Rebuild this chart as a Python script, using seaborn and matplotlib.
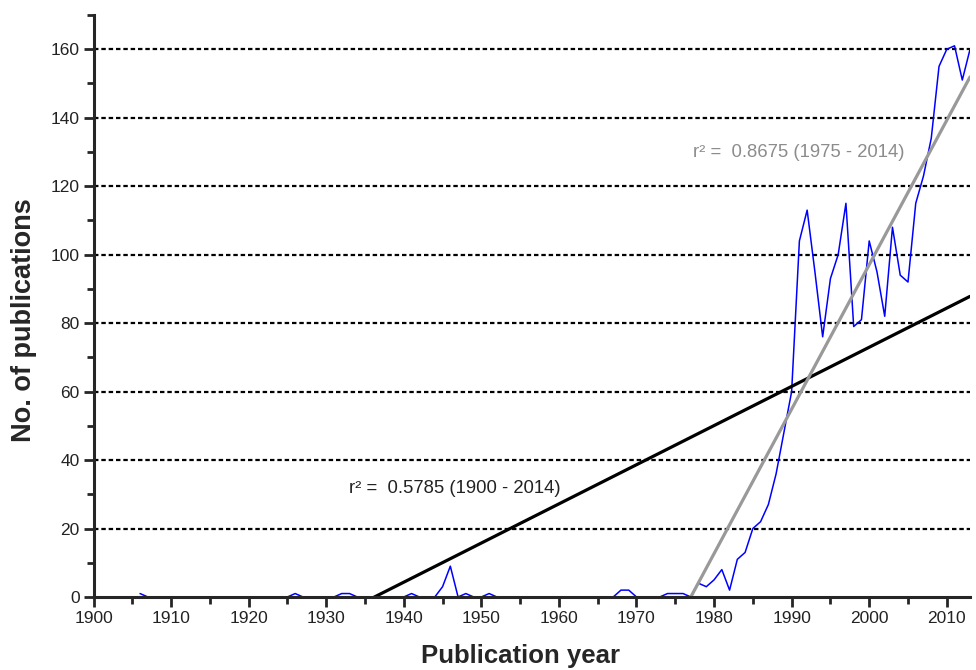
import numpy as np
import pandas as pd
import matplotlib
matplotlib.use("Agg")
import matplotlib.pyplot as plt
import seaborn as sns
from matplotlib.ticker import MultipleLocator

# Publications per year
years = list(range(1906, 2014))
counts = (
    [1] + [0] * 19            # 1906-1925
    + [1, 0, 0, 0, 0, 0]      # 1926-1931
    + [1, 1, 0, 0, 0, 0, 0, 0, 0]  # 1932-1940
    + [1, 0, 0, 0, 3, 9, 0, 1, 0, 0, 1]  # 1941-1951
    + [0] * 16                # 1952-1967
    + [2, 2, 0, 0, 0, 0, 1, 1, 1, 0]  # 1968-1977
    + [4, 3, 5, 8, 2, 11, 13, 20, 22, 27, 36, 48, 60]  # 1978-1990
    + [104, 113, 95, 76, 93, 100, 115, 79, 81, 104]  # 1991-2000
    + [95, 82, 108, 94, 92, 115, 123, 134, 155, 160, 161, 151, 160]  # 2001-2013
)

# fitted line for 1975-2014 as drawn in the figure (slope per year, zero crossing year)
recent_slope = 4.22
recent_zero_year = 1977.0

df = pd.DataFrame({"Year": years, "Publications": counts})

sns.set_style("ticks")
plt.rcParams["font.family"] = ["Liberation Sans", "DejaVu Sans"]

fig = plt.figure(figsize=(9.76, 6.7), dpi=100)
ax = fig.add_axes([0.0958, 0.109, 0.8981, 0.8686])

# Linear fits
x_line = np.linspace(1900, 2013, 200)
p_all = np.polyfit(df["Year"], df["Publications"], 1)
y_rec = recent_slope * (x_line - recent_zero_year)

sns.lineplot(data=df, x="Year", y="Publications", color="#0000ff", lw=1.1, ax=ax, zorder=3)
ax.plot(x_line, np.polyval(p_all, x_line), color="black", lw=2.3, zorder=4)
ax.plot(x_line, y_rec, color="#999999", lw=2.3, zorder=4)

ax.text(1933.0, 30.4, "r² =  0.5785 (1900 - 2014)", fontsize=13.3, color="#222222")
ax.text(1977.3, 128.6, "r² =  0.8675 (1975 - 2014)", fontsize=13.3, color="#8c8c8c")

ax.set_xlim(1900, 2013)
ax.set_ylim(0, 170)
ax.yaxis.set_major_locator(MultipleLocator(20))
ax.yaxis.set_minor_locator(MultipleLocator(10))
ax.xaxis.set_major_locator(MultipleLocator(10))
ax.xaxis.set_minor_locator(MultipleLocator(5))
ax.set_yticks(range(0, 161, 20))

for y in range(20, 161, 20):
    ax.axhline(y, color="black", lw=1.6, linestyle=(0, (2.0, 1.3)), zorder=1)

for side in ["top", "right"]:
    ax.spines[side].set_visible(False)
for side in ["left", "bottom"]:
    ax.spines[side].set_linewidth(2.2)
    ax.spines[side].set_zorder(5)

ax.tick_params(which="major", length=7, width=2, labelsize=12.5, labelcolor="#222222", pad=3)
ax.tick_params(which="minor", length=5, width=2)

ax.set_xlabel("Publication year", fontsize=18.5, fontweight="bold")
ax.set_ylabel("No. of publications", fontsize=19.5, fontweight="bold")
ax.xaxis.set_label_coords(0.4866, -0.0800)
ax.yaxis.set_label_coords(-0.0645, 0.476)

fig.savefig("out.png", dpi=100)
